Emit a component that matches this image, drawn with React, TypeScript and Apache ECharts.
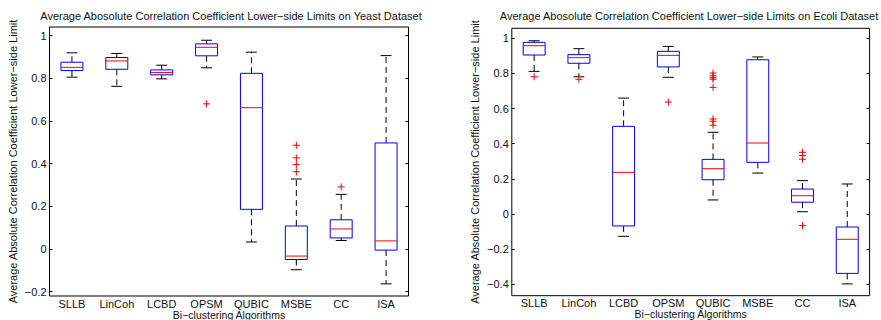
import React, { useEffect, useRef } from "react";
import * as echarts from "echarts";

const categories = ["SLLB", "LinCoh", "LCBD", "OPSM", "QUBIC", "MSBE", "CC", "ISA"];
const tickValuesYeast = [-0.2, 0, 0.2, 0.4, 0.6, 0.8, 1];
const tickValuesEcoli = [-0.4, -0.2, 0, 0.2, 0.4, 0.6, 0.8, 1];

const yeastLow = [0.805, 0.762, 0.797, 0.849, 0.033, -0.097, 0.04, -0.163];
const yeastQ1 = [0.836, 0.842, 0.816, 0.905, 0.186, -0.049, 0.052, -0.005];
const yeastMedian = [0.851, 0.881, 0.827, 0.945, 0.662, -0.033, 0.094, 0.038];
const yeastQ3 = [0.875, 0.897, 0.839, 0.961, 0.823, 0.108, 0.137, 0.497];
const yeastHigh = [0.919, 0.916, 0.861, 0.978, 0.922, 0.328, 0.256, 0.906];
const yeastOutliers = [
  [3, 0.68], [5, 0.486], [5, 0.427], [5, 0.396], [5, 0.362], [6, 0.291],
];

const ecoliLow = [0.812, 0.781, -0.127, 0.778, 0.08, 0.233, 0.013, -0.398];
const ecoliQ1 = [0.905, 0.858, -0.068, 0.837, 0.195, 0.294, 0.067, -0.338];
const ecoliMedian = [0.958, 0.89, 0.237, 0.903, 0.258, 0.404, 0.104, -0.144];
const ecoliQ3 = [0.977, 0.907, 0.499, 0.926, 0.311, 0.878, 0.142, -0.074];
const ecoliHigh = [0.986, 0.941, 0.66, 0.954, 0.465, 0.894, 0.19, 0.171];
const ecoliOutliers = [
  [0, 0.781], [1, 0.767], [3, 0.637],
  [4, 0.802], [4, 0.787], [4, 0.776], [4, 0.767], [4, 0.721], [4, 0.541], [4, 0.528], [4, 0.505],
  [6, 0.351], [6, 0.333], [6, 0.312], [6, -0.066],
];

const FONT = "'Liberation Sans', Arial, Helvetica, sans-serif";
const TXT = "#111";

function boxData(low: number[], q1: number[], med: number[], q3: number[], high: number[]) {
  return categories.map((_, i) => [i, low[i], q1[i], med[i], q3[i], high[i]]);
}

function renderBox(params: any, api: any) {
  const i = api.value(0);
  const low = api.coord([i, api.value(1)]);
  const q1 = api.coord([i, api.value(2)]);
  const med = api.coord([i, api.value(3)]);
  const q3 = api.coord([i, api.value(4)]);
  const high = api.coord([i, api.value(5)]);
  const band = api.size([1, 0])[0];
  const bw = band * 0.49;
  const half = bw / 2;
  const cap = bw / 4;
  const cx = low[0];
  const whisker = { stroke: "#000", lineWidth: 1, lineDash: [6, 4] };
  const solid = { stroke: "#000", lineWidth: 1 };
  return {
    type: "group",
    children: [
      { type: "line", shape: { x1: cx, y1: q3[1], x2: cx, y2: high[1] }, style: whisker },
      { type: "line", shape: { x1: cx, y1: q1[1], x2: cx, y2: low[1] }, style: whisker },
      { type: "line", shape: { x1: cx - cap, y1: high[1], x2: cx + cap, y2: high[1] }, style: solid },
      { type: "line", shape: { x1: cx - cap, y1: low[1], x2: cx + cap, y2: low[1] }, style: solid },
      {
        type: "rect",
        shape: { x: cx - half, y: q3[1], width: bw, height: q1[1] - q3[1] },
        style: { stroke: "#0000ff", fill: "none", lineWidth: 1 },
      },
      { type: "line", shape: { x1: cx - half, y1: med[1], x2: cx + half, y2: med[1] }, style: { stroke: "#ff0000", lineWidth: 1 } },
    ],
  };
}

function renderPlus(params: any, api: any) {
  const p = api.coord([api.value(0), api.value(1)]);
  const s = 3.5;
  const st = { stroke: "#ff0000", lineWidth: 1 };
  return {
    type: "group",
    children: [
      { type: "line", shape: { x1: p[0] - s, y1: p[1], x2: p[0] + s, y2: p[1] }, style: st },
      { type: "line", shape: { x1: p[0], y1: p[1] - s, x2: p[0], y2: p[1] + s }, style: st },
    ],
  };
}

function fmt(v: number) {
  const r = Math.round(v * 10) / 10;
  const s = r === 0 ? "0" : String(r);
  return s.replace("-", "\u2212");
}

function makeAxes(gridIndex: number, min: number, max: number, ticks: number[]) {
  const xAxis = {
    type: "category",
    gridIndex,
    data: categories,
    boundaryGap: true,
    axisLine: { show: false },
    axisTick: { show: false },
    axisLabel: { interval: 0, fontSize: 11, lineHeight: 11, margin: 2, color: TXT, fontFamily: FONT },
    splitLine: { show: false },
    name: "Bi\u2212clustering Algorithms",
    nameLocation: "middle",
    nameGap: 13.5,
    nameMoveOverlap: false,
    nameTextStyle: { fontSize: 10.5, lineHeight: 10.5, color: TXT, fontFamily: FONT },
  };
  const yLeft = {
    type: "value",
    gridIndex,
    min,
    max,
    position: "left",
    axisLine: { show: false },
    axisTick: { show: true, inside: true, length: 3, lineStyle: { color: "#000" }, customValues: ticks },
    axisLabel: { show: true, customValues: ticks, formatter: fmt, fontSize: 11, margin: 3, color: TXT, fontFamily: FONT },
    splitLine: { show: false },
    name: "Average Absolute Correlation Coefficient Lower\u2212side Limit",
    nameLocation: "middle",
    nameGap: 31,
    nameMoveOverlap: false,
    nameTextStyle: { fontSize: 11, color: TXT, fontFamily: FONT },
  };
  const yRight = {
    type: "value",
    gridIndex,
    min,
    max,
    position: "right",
    axisLine: { show: false },
    axisTick: { show: true, inside: true, length: 3, lineStyle: { color: "#000" }, customValues: ticks },
    axisLabel: { show: false, customValues: ticks },
    splitLine: { show: false },
  };
  return { xAxis, yLeft, yRight };
}

export default function App() {
  const ref = useRef<HTMLDivElement>(null);
  useEffect(() => {
    if (!ref.current) return;
    const chart = echarts.init(ref.current, undefined, { renderer: "svg" });
    const a = makeAxes(0, -0.22, 1.04, tickValuesYeast);
    const b = makeAxes(1, -0.465, 1.057, tickValuesEcoli);
    const option: any = {
      animation: false,
      backgroundColor: "#fff",
      grid: [
        { left: 49.5, top: 27, width: 359, height: 269, show: true, borderColor: "#000", borderWidth: 1, backgroundColor: "transparent", containLabel: false, outerBoundsMode: "none" },
        { left: 511.8, top: 28.3, width: 357.8, height: 267.4, show: true, borderColor: "#000", borderWidth: 1, backgroundColor: "transparent", containLabel: false, outerBoundsMode: "none" },
      ],
      xAxis: [a.xAxis, b.xAxis],
      yAxis: [a.yLeft, a.yRight, b.yLeft, b.yRight],
      graphic: [
        {
          type: "text",
          x: 231,
          y: 16,
          style: {
            text: "Average Abosolute Correlation Coefficient Lower\u2212side Limits on Yeast Dataset",
            align: "center",
            verticalAlign: "middle",
            fontSize: 11,
            fontFamily: FONT,
            fill: TXT,
          },
        },
        {
          type: "text",
          x: 689,
          y: 16,
          style: {
            text: "Average Abosolute Correlation Coefficient Lower\u2212side Limits on Ecoli Dataset",
            align: "center",
            verticalAlign: "middle",
            fontSize: 11,
            fontFamily: FONT,
            fill: TXT,
          },
        },
      ],
      series: [
        {
          type: "custom",
          xAxisIndex: 0,
          yAxisIndex: 0,
          renderItem: renderBox,
          encode: { x: 0, y: [1, 2, 3, 4, 5] },
          data: boxData(yeastLow, yeastQ1, yeastMedian, yeastQ3, yeastHigh),
        },
        {
          type: "custom",
          xAxisIndex: 0,
          yAxisIndex: 0,
          renderItem: renderPlus,
          encode: { x: 0, y: 1 },
          data: yeastOutliers,
        },
        {
          type: "custom",
          xAxisIndex: 1,
          yAxisIndex: 2,
          renderItem: renderBox,
          encode: { x: 0, y: [1, 2, 3, 4, 5] },
          data: boxData(ecoliLow, ecoliQ1, ecoliMedian, ecoliQ3, ecoliHigh),
        },
        {
          type: "custom",
          xAxisIndex: 1,
          yAxisIndex: 2,
          renderItem: renderPlus,
          encode: { x: 0, y: 1 },
          data: ecoliOutliers,
        },
      ],
    };
    chart.setOption(option);
    return () => chart.dispose();
  }, []);
  return (
    <div
      ref={ref}
      style={{ position: "fixed", left: 0, top: 0, width: 881, height: 320, background: "#fff" }}
    />
  );
}
